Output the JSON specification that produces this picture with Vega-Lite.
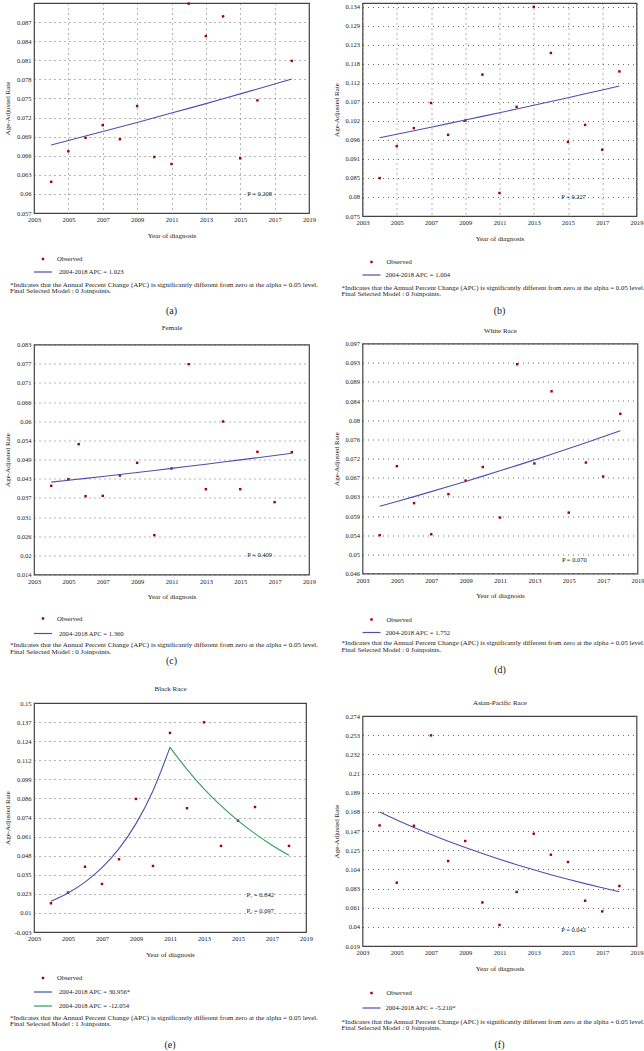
{
  "$schema": "https://vega.github.io/schema/vega-lite/v6.json",
  "background": "white",
  "padding": {"left": 2, "top": 1, "right": 0, "bottom": 0},
  "config": {
    "font": "Liberation Serif",
    "view": {"stroke": "#444", "strokeWidth": 1.2},
    "axis": {"domain": false, "ticks": false, "grid": true, "gridColor": "#444", "gridDash": [1, 4], "gridWidth": 0.8, "labelFont": "Liberation Serif", "labelFontSize": 6.5, "labelColor": "#222", "titleFont": "Liberation Serif", "titleFontSize": 7, "titleFontWeight": "normal", "titleColor": "#222", "labelOverlap": false, "tickCount": 30},
    "axisX": {"labelPadding": 3.5, "titlePadding": 8, "labelFlush": false},
    "axisY": {"labelPadding": 3, "titleX": -23.5},
    "legend": {"orient": "none", "direction": "vertical", "titleOrient": "top", "titleAnchor": "start", "titleFont": "Liberation Serif", "titleFontSize": 7, "titleFontWeight": "normal", "titleColor": "#222", "titleLimit": 600, "titleLineHeight": 6.5, "titlePadding": 0, "labelFont": "Liberation Serif", "labelFontSize": 6.6, "labelColor": "#222", "labelLimit": 300, "symbolStrokeWidth": 1.2, "symbolOpacity": 1, "symbolOffset": 0},
    "title": {"font": "Liberation Serif", "fontSize": 10, "fontWeight": "normal", "color": "#222", "orient": "bottom", "anchor": "middle"}
  },
  "datasets": {
    "a_obs": [{"year":2004,"rate":0.0619},{"year":2005,"rate":0.0667},{"year":2006,"rate":0.0688},{"year":2007,"rate":0.0708},{"year":2008,"rate":0.0686},{"year":2009,"rate":0.0738},{"year":2010,"rate":0.0658},{"year":2011,"rate":0.0647},{"year":2012,"rate":0.0899},{"year":2013,"rate":0.0848},{"year":2014,"rate":0.0879},{"year":2015,"rate":0.0656},{"year":2016,"rate":0.0747},{"year":2018,"rate":0.0809}],
    "a_fit": [{"year":2004,"rate":0.0677},{"year":2005,"rate":0.06839},{"year":2006,"rate":0.06909},{"year":2007,"rate":0.0698},{"year":2008,"rate":0.07051},{"year":2009,"rate":0.07123},{"year":2010,"rate":0.07196},{"year":2011,"rate":0.0727},{"year":2012,"rate":0.07344},{"year":2013,"rate":0.07419},{"year":2014,"rate":0.07495},{"year":2015,"rate":0.07572},{"year":2016,"rate":0.07649},{"year":2017,"rate":0.07728},{"year":2018,"rate":0.07807}],
    "b_obs": [{"year":2004,"rate":0.0857},{"year":2005,"rate":0.0947},{"year":2006,"rate":0.0998},{"year":2007,"rate":0.1069},{"year":2008,"rate":0.0979},{"year":2009,"rate":0.1019},{"year":2010,"rate":0.1149},{"year":2011,"rate":0.0815},{"year":2012,"rate":0.1058},{"year":2013,"rate":0.134},{"year":2014,"rate":0.121},{"year":2015,"rate":0.0959},{"year":2016,"rate":0.1007},{"year":2017,"rate":0.0937},{"year":2018,"rate":0.1158}],
    "b_fit": [{"year":2004,"rate":0.0971},{"year":2005,"rate":0.09807},{"year":2006,"rate":0.09906},{"year":2007,"rate":0.10005},{"year":2008,"rate":0.10106},{"year":2009,"rate":0.10207},{"year":2010,"rate":0.1031},{"year":2011,"rate":0.10413},{"year":2012,"rate":0.10518},{"year":2013,"rate":0.10624},{"year":2014,"rate":0.1073},{"year":2015,"rate":0.10838},{"year":2016,"rate":0.10947},{"year":2017,"rate":0.11057},{"year":2018,"rate":0.11168}],
    "c_obs": [{"year":2004,"rate":0.0406},{"year":2005,"rate":0.0426},{"year":2005.6,"rate":0.0531},{"year":2006,"rate":0.0375},{"year":2007,"rate":0.0376},{"year":2008,"rate":0.0437},{"year":2009,"rate":0.0475},{"year":2010,"rate":0.0258},{"year":2011,"rate":0.0458},{"year":2012,"rate":0.0771},{"year":2013,"rate":0.0396},{"year":2014,"rate":0.0599},{"year":2015,"rate":0.0396},{"year":2016,"rate":0.0508},{"year":2017,"rate":0.0357},{"year":2018,"rate":0.0507}],
    "c_fit": [{"year":2004,"rate":0.0417},{"year":2005,"rate":0.04227},{"year":2006,"rate":0.04284},{"year":2007,"rate":0.04342},{"year":2008,"rate":0.04402},{"year":2009,"rate":0.04461},{"year":2010,"rate":0.04522},{"year":2011,"rate":0.04584},{"year":2012,"rate":0.04646},{"year":2013,"rate":0.04709},{"year":2014,"rate":0.04773},{"year":2015,"rate":0.04838},{"year":2016,"rate":0.04904},{"year":2017,"rate":0.04971},{"year":2018,"rate":0.05038}],
    "d_obs": [{"year":2004,"rate":0.0545},{"year":2005,"rate":0.0698},{"year":2006,"rate":0.0616},{"year":2007,"rate":0.0547},{"year":2008,"rate":0.0636},{"year":2009,"rate":0.0666},{"year":2010,"rate":0.0696},{"year":2011,"rate":0.0584},{"year":2012,"rate":0.0924},{"year":2013,"rate":0.0704},{"year":2014,"rate":0.0864},{"year":2015,"rate":0.0595},{"year":2016,"rate":0.0706},{"year":2017,"rate":0.0675},{"year":2018,"rate":0.0814}],
    "d_fit": [{"year":2004,"rate":0.0609},{"year":2005,"rate":0.06197},{"year":2006,"rate":0.06305},{"year":2007,"rate":0.06416},{"year":2008,"rate":0.06528},{"year":2009,"rate":0.06642},{"year":2010,"rate":0.06759},{"year":2011,"rate":0.06877},{"year":2012,"rate":0.06998},{"year":2013,"rate":0.0712},{"year":2014,"rate":0.07245},{"year":2015,"rate":0.07372},{"year":2016,"rate":0.07501},{"year":2017,"rate":0.07633},{"year":2018,"rate":0.07766}],
    "e_obs": [{"year":2004,"rate":0.0162},{"year":2005,"rate":0.0233},{"year":2006,"rate":0.0406},{"year":2007,"rate":0.0291},{"year":2008,"rate":0.0456},{"year":2009,"rate":0.0859},{"year":2010,"rate":0.0411},{"year":2011,"rate":0.13},{"year":2012,"rate":0.0797},{"year":2013,"rate":0.1371},{"year":2014,"rate":0.0545},{"year":2015,"rate":0.0714},{"year":2016,"rate":0.0805},{"year":2018,"rate":0.0545}],
    "e_fit": [{"year":2004,"rate":0.0175,"segment":"2004-2018 APC = 30.956*"},{"year":2005,"rate":0.02305,"segment":"2004-2018 APC = 30.956*"},{"year":2006,"rate":0.03036,"segment":"2004-2018 APC = 30.956*"},{"year":2007,"rate":0.03999,"segment":"2004-2018 APC = 30.956*"},{"year":2008,"rate":0.05268,"segment":"2004-2018 APC = 30.956*"},{"year":2009,"rate":0.06939,"segment":"2004-2018 APC = 30.956*"},{"year":2010,"rate":0.0914,"segment":"2004-2018 APC = 30.956*"},{"year":2011,"rate":0.1204,"segment":"2004-2018 APC = 30.956*"},{"year":2011,"rate":0.1204,"segment":"2004-2018 APC = -12.054"},{"year":2012,"rate":0.1057,"segment":"2004-2018 APC = -12.054"},{"year":2013,"rate":0.0927,"segment":"2004-2018 APC = -12.054"},{"year":2014,"rate":0.0814,"segment":"2004-2018 APC = -12.054"},{"year":2015,"rate":0.0714,"segment":"2004-2018 APC = -12.054"},{"year":2016,"rate":0.0627,"segment":"2004-2018 APC = -12.054"},{"year":2017,"rate":0.055,"segment":"2004-2018 APC = -12.054"},{"year":2018,"rate":0.0483,"segment":"2004-2018 APC = -12.054"}],
    "f_obs": [{"year":2004,"rate":0.1527},{"year":2005,"rate":0.0892},{"year":2006,"rate":0.1523},{"year":2007,"rate":0.2525},{"year":2008,"rate":0.1132},{"year":2009,"rate":0.1354},{"year":2010,"rate":0.0673},{"year":2011,"rate":0.0423},{"year":2012,"rate":0.0789},{"year":2013,"rate":0.1435},{"year":2014,"rate":0.1202},{"year":2015,"rate":0.1121},{"year":2016,"rate":0.0692},{"year":2017,"rate":0.0574},{"year":2018,"rate":0.0855}],
    "f_fit": [{"year":2004,"rate":0.1675},{"year":2005,"rate":0.15877},{"year":2006,"rate":0.1505},{"year":2007,"rate":0.14266},{"year":2008,"rate":0.13523},{"year":2009,"rate":0.12818},{"year":2010,"rate":0.1215},{"year":2011,"rate":0.11517},{"year":2012,"rate":0.10917},{"year":2013,"rate":0.10348},{"year":2014,"rate":0.09809},{"year":2015,"rate":0.09298},{"year":2016,"rate":0.08814},{"year":2017,"rate":0.08355},{"year":2018,"rate":0.07919}]
  },
  "spacing": 10.5,
  "resolve": {"scale": {"color": "independent", "stroke": "independent", "opacity": "independent"}, "legend": {"color": "independent", "stroke": "independent", "opacity": "independent"}},
  "hconcat": [
    {
      "spacing": 4.5,
      "resolve": {"scale": {"color": "independent", "stroke": "independent", "opacity": "independent"}, "legend": {"color": "independent", "stroke": "independent", "opacity": "independent"}},
      "vconcat": [
        {
          "width": 275, "height": 210,
          "title": {"text": "(a)", "offset": 11.5},
          "layer": [
            {"data": {"name": "a_obs"}, "mark": {"type": "square", "size": 6, "opacity": 1},
             "encoding": {
               "x": {"field": "year", "type": "quantitative", "scale": {"domain": [2003, 2019], "nice": false, "zero": false}, "axis": {"title": "Year of diagnosis", "values": [2003,2005,2007,2009,2011,2013,2015,2017,2019], "format": "d"}},
               "y": {"field": "rate", "type": "quantitative", "scale": {"domain": [0.057, 0.09], "nice": false, "zero": false}, "axis": {"title": "Age-Adjusted Rate", "values": [0.057,0.06,0.063,0.066,0.069,0.072,0.075,0.078,0.081,0.084,0.087], "format": ".3~f"}},
               "color": {"datum": "Observed", "type": "nominal", "scale": {"domain": ["Observed"], "range": ["#a00010"]},
                 "legend": {"legendX": 5.7, "legendY": 252.7, "symbolType": "square", "symbolSize": 6, "labelOffset": 10.7, "title": null}}
             }},
            {"data": {"name": "a_fit"}, "mark": {"type": "line", "strokeWidth": 1.1},
             "encoding": {"x": {"field": "year", "type": "quantitative"}, "y": {"field": "rate", "type": "quantitative"},
               "stroke": {"datum": "2004-2018 APC = 1.023", "type": "nominal", "scale": {"domain": ["2004-2018 APC = 1.023"], "range": ["#4f4fae"]},
                 "legend": {"legendX": -1, "legendY": 259, "symbolSize": 324, "labelOffset": 6, "title": null}}}},
            {"data": {"values": [{"label": "P = 0.208"}]}, "mark": {"type": "text", "align": "left", "baseline": "middle", "fontSize": 6.5, "color": "#222"},
             "encoding": {"x": {"datum": 2015.4, "type": "quantitative"}, "y": {"datum": 0.06, "type": "quantitative"}, "text": {"field": "label"},
               "opacity": {"datum": "note", "type": "nominal", "scale": {"domain": ["note"], "range": [1]},
                 "legend": {"legendX": -24, "legendY": 277.5, "symbolSize": 0, "symbolStrokeWidth": 0, "labelFontSize": 1, "labelExpr": "''", "title": ["*Indicates that the Annual Percent Change (APC) is significantly different from zero at the alpha = 0.05 level.", "Final Selected Model : 0 Joinpoints."]}}}}
          ]
        },
        {
          "width": 275, "height": 230,
          "title": {"text": "(c)", "offset": 1, "subtitle": "\u00a0", "subtitleFontSize": 5.5, "subtitlePadding": 5.5},
          "resolve": {"axis": {"x": "independent"}},
          "layer": [
            {"data": {"name": "c_obs"}, "mark": {"type": "square", "size": 6, "opacity": 1},
             "encoding": {
               "x": {"field": "year", "type": "quantitative", "scale": {"domain": [2003, 2019], "nice": false, "zero": false}, "axis": {"orient": "top", "title": "Female", "labels": false, "grid": false, "titlePadding": 14.5}},
               "y": {"field": "rate", "type": "quantitative", "scale": {"domain": [0.014, 0.083], "nice": false, "zero": false}, "axis": {"title": "Age-Adjusted Rate", "values": [0.014,0.01975,0.0255,0.03125,0.037,0.04275,0.0485,0.05425,0.06,0.06575,0.0715,0.07725,0.083], "labelExpr": "['0.014','0.02','0.026','0.031','0.037','0.043','0.049','0.054','0.06','0.066','0.071','0.077','0.083'][round(datum.index*12)]"}},
               "color": {"datum": "Observed", "type": "nominal", "scale": {"domain": ["Observed"], "range": ["#a00010"]},
                 "legend": {"legendX": 5.7, "legendY": 270.7, "symbolType": "square", "symbolSize": 6, "labelOffset": 10.7, "title": null}}
             }},
            {"data": {"name": "c_fit"}, "mark": {"type": "line", "strokeWidth": 1.1},
             "encoding": {"x": {"field": "year", "type": "quantitative", "axis": {"title": "Year of diagnosis", "values": [2003,2005,2007,2009,2011,2013,2015,2017,2019], "format": "d"}}, "y": {"field": "rate", "type": "quantitative"},
               "stroke": {"datum": "2004-2018 APC = 1.360", "type": "nominal", "scale": {"domain": ["2004-2018 APC = 1.360"], "range": ["#4f4fae"]},
                 "legend": {"legendX": -1, "legendY": 279, "symbolSize": 324, "labelOffset": 6, "title": null}}}},
            {"data": {"values": [{"label": "P = 0.409"}]}, "mark": {"type": "text", "align": "left", "baseline": "middle", "fontSize": 6.5, "color": "#222"},
             "encoding": {"x": {"datum": 2015.4, "type": "quantitative", "axis": null}, "y": {"datum": 0.02, "type": "quantitative"}, "text": {"field": "label"},
               "opacity": {"datum": "note", "type": "nominal", "scale": {"domain": ["note"], "range": [1]},
                 "legend": {"legendX": -24, "legendY": 296.5, "symbolSize": 0, "symbolStrokeWidth": 0, "labelFontSize": 1, "labelExpr": "''", "title": ["*Indicates that the Annual Percent Change (APC) is significantly different from zero at the alpha = 0.05 level.", "Final Selected Model : 0 Joinpoints."]}}}}
          ]
        },
        {
          "width": 272, "height": 229,
          "title": {"text": "(e)", "offset": 12},
          "resolve": {"axis": {"x": "independent"}},
          "layer": [
            {"data": {"name": "e_obs"}, "mark": {"type": "square", "size": 6, "opacity": 1},
             "encoding": {
               "x": {"field": "year", "type": "quantitative", "scale": {"domain": [2003, 2019], "nice": false, "zero": false}, "axis": {"orient": "top", "title": "Black Race", "labels": false, "grid": false, "titlePadding": 12}},
               "y": {"field": "rate", "type": "quantitative", "scale": {"domain": [-0.003, 0.15], "nice": false, "zero": false}, "axis": {"title": "Age-Adjusted Rate", "values": [-0.003,0.00975,0.0225,0.03525,0.048,0.06075,0.0735,0.08625,0.099,0.11175,0.1245,0.13725,0.15], "labelExpr": "['-0.003','0.01','0.023','0.035','0.048','0.061','0.074','0.086','0.099','0.112','0.124','0.137','0.15'][round(datum.index*12)]"}},
               "color": {"datum": "Observed", "type": "nominal", "scale": {"domain": ["Observed"], "range": ["#a00010"]},
                 "legend": {"legendX": 5.7, "legendY": 271.7, "symbolType": "square", "symbolSize": 6, "labelOffset": 10.7, "title": null}}
             }},
            {"data": {"name": "e_fit"}, "mark": {"type": "line", "strokeWidth": 1.1, "interpolate": "monotone"},
             "encoding": {"x": {"field": "year", "type": "quantitative", "axis": {"title": "Year of diagnosis", "values": [2003,2005,2007,2009,2011,2013,2015,2017,2019], "format": "d"}}, "y": {"field": "rate", "type": "quantitative"},
               "stroke": {"field": "segment", "type": "nominal", "scale": {"domain": ["2004-2018 APC = 30.956*", "2004-2018 APC = -12.054"], "range": ["#4f4fae", "#2e9e5b"]},
                 "legend": {"legendX": -1, "legendY": 279, "symbolSize": 324, "labelOffset": 6, "rowPadding": -5, "title": null}}}},
            {"data": {"values": [{"label": "P₁ = 0.842"}]}, "mark": {"type": "text", "align": "left", "baseline": "middle", "fontSize": 6.5, "color": "#222"},
             "encoding": {"x": {"datum": 2015.5, "type": "quantitative", "axis": null}, "y": {"datum": 0.0217, "type": "quantitative"}, "text": {"field": "label"},
               "opacity": {"datum": "note", "type": "nominal", "scale": {"domain": ["note"], "range": [1]},
                 "legend": {"legendX": -24, "legendY": 310.5, "symbolSize": 0, "symbolStrokeWidth": 0, "labelFontSize": 1, "labelExpr": "''", "title": ["*Indicates that the Annual Percent Change (APC) is significantly different from zero at the alpha = 0.05 level.", "Final Selected Model : 1 Joinpoints."]}}}},
            {"data": {"values": [{"label": "P₂ = 0.097"}]}, "mark": {"type": "text", "align": "left", "baseline": "middle", "fontSize": 6.5, "color": "#222"},
             "encoding": {"x": {"datum": 2015.5, "type": "quantitative", "axis": null}, "y": {"datum": 0.011, "type": "quantitative"}, "text": {"field": "label"}}}
          ]
        }
      ]
    },
    {
      "spacing": 7.5,
      "resolve": {"scale": {"color": "independent", "stroke": "independent", "opacity": "independent"}, "legend": {"color": "independent", "stroke": "independent", "opacity": "independent"}},
      "vconcat": [
        {
          "width": 274, "height": 213,
          "title": {"text": "(b)", "offset": 7},
          "layer": [
            {"data": {"name": "b_obs"}, "mark": {"type": "square", "size": 6, "opacity": 1},
             "encoding": {
               "x": {"field": "year", "type": "quantitative", "scale": {"domain": [2003, 2019], "nice": false, "zero": false}, "axis": {"title": "Year of diagnosis", "values": [2003,2005,2007,2009,2011,2013,2015,2017,2019], "format": "d"}},
               "y": {"field": "rate", "type": "quantitative", "scale": {"domain": [0.075, 0.1351], "nice": false, "zero": false}, "axis": {"title": "Age-Adjusted Rate", "values": [0.075,0.0803636,0.0857273,0.0910909,0.0964545,0.1018182,0.1071818,0.1125455,0.1179091,0.1232727,0.1286364,0.134], "labelExpr": "['0.075','0.08','0.085','0.091','0.096','0.102','0.107','0.112','0.118','0.123','0.129','0.134'][round(datum.index*11)]"}},
               "color": {"datum": "Observed", "type": "nominal", "scale": {"domain": ["Observed"], "range": ["#a00010"]},
                 "legend": {"legendX": 5.7, "legendY": 255.7, "symbolType": "square", "symbolSize": 6, "labelOffset": 11.7, "title": null}}
             }},
            {"data": {"name": "b_fit"}, "mark": {"type": "line", "strokeWidth": 1.1},
             "encoding": {"x": {"field": "year", "type": "quantitative"}, "y": {"field": "rate", "type": "quantitative"},
               "stroke": {"datum": "2004-2018 APC = 1.004", "type": "nominal", "scale": {"domain": ["2004-2018 APC = 1.004"], "range": ["#4f4fae"]},
                 "legend": {"legendX": -1, "legendY": 262, "symbolSize": 324, "labelOffset": 4, "title": null}}}},
            {"data": {"values": [{"label": "P = 0.227"}]}, "mark": {"type": "text", "align": "left", "baseline": "middle", "fontSize": 6.5, "color": "#222"},
             "encoding": {"x": {"datum": 2014.6, "type": "quantitative"}, "y": {"datum": 0.0804, "type": "quantitative"}, "text": {"field": "label"},
               "opacity": {"datum": "note", "type": "nominal", "scale": {"domain": ["note"], "range": [1]},
                 "legend": {"legendX": -21, "legendY": 281.5, "symbolSize": 0, "symbolStrokeWidth": 0, "labelFontSize": 1, "labelExpr": "''", "titleFontSize": 6.9, "title": ["*Indicates that the Annual Percent Change (APC) is significantly different from zero at the alpha = 0.05 level.", "Final Selected Model : 0 Joinpoints."]}}}}
          ]
        },
        {
          "width": 275, "height": 230,
          "title": {"text": "(d)", "offset": 10.5, "subtitle": "\u00a0", "subtitleFontSize": 7, "subtitlePadding": 7},
          "resolve": {"axis": {"x": "independent"}},
          "layer": [
            {"data": {"name": "d_obs"}, "mark": {"type": "square", "size": 6, "opacity": 1},
             "encoding": {
               "x": {"field": "year", "type": "quantitative", "scale": {"domain": [2003, 2019], "nice": false, "zero": false}, "axis": {"orient": "top", "title": "White Race", "labels": false, "grid": false, "titlePadding": 10.5}},
               "y": {"field": "rate", "type": "quantitative", "scale": {"domain": [0.046, 0.097], "nice": false, "zero": false}, "axis": {"title": "Age-Adjusted Rate", "values": [0.046,0.05025,0.0545,0.05875,0.063,0.06725,0.0715,0.07575,0.08,0.08425,0.0885,0.09275,0.097], "labelExpr": "['0.046','0.05','0.054','0.059','0.063','0.067','0.072','0.076','0.08','0.084','0.089','0.093','0.097'][round(datum.index*12)]"}},
               "color": {"datum": "Observed", "type": "nominal", "scale": {"domain": ["Observed"], "range": ["#a00010"]},
                 "legend": {"legendX": 5.7, "legendY": 272.7, "symbolType": "square", "symbolSize": 6, "labelOffset": 11.7, "title": null}}
             }},
            {"data": {"name": "d_fit"}, "mark": {"type": "line", "strokeWidth": 1.1},
             "encoding": {"x": {"field": "year", "type": "quantitative", "axis": {"title": "Year of diagnosis", "values": [2003,2005,2007,2009,2011,2013,2015,2017,2019], "format": "d"}}, "y": {"field": "rate", "type": "quantitative"},
               "stroke": {"datum": "2004-2018 APC = 1.752", "type": "nominal", "scale": {"domain": ["2004-2018 APC = 1.752"], "range": ["#4f4fae"]},
                 "legend": {"legendX": -1, "legendY": 279, "symbolSize": 324, "labelOffset": 4, "title": null}}}},
            {"data": {"values": [{"label": "P = 0.070"}]}, "mark": {"type": "text", "align": "left", "baseline": "middle", "fontSize": 6.5, "color": "#222"},
             "encoding": {"x": {"datum": 2014.6, "type": "quantitative", "axis": null}, "y": {"datum": 0.0489, "type": "quantitative"}, "text": {"field": "label"},
               "opacity": {"datum": "note", "type": "nominal", "scale": {"domain": ["note"], "range": [1]},
                 "legend": {"legendX": -21, "legendY": 296.5, "symbolSize": 0, "symbolStrokeWidth": 0, "labelFontSize": 1, "labelExpr": "''", "titleFontSize": 6.9, "title": ["*Indicates that the Annual Percent Change (APC) is significantly different from zero at the alpha = 0.05 level.", "Final Selected Model : 0 Joinpoints."]}}}}
          ]
        },
        {
          "width": 274, "height": 230,
          "title": {"text": "(f)", "offset": 7},
          "resolve": {"axis": {"x": "independent"}},
          "layer": [
            {"data": {"name": "f_obs"}, "mark": {"type": "square", "size": 6, "opacity": 1},
             "encoding": {
               "x": {"field": "year", "type": "quantitative", "scale": {"domain": [2003, 2019], "nice": false, "zero": false}, "axis": {"orient": "top", "title": "Asian-Pacific Race", "labels": false, "grid": false, "titlePadding": 10.5}},
               "y": {"field": "rate", "type": "quantitative", "scale": {"domain": [0.019, 0.274], "nice": false, "zero": false}, "axis": {"title": "Age-Adjusted Rate", "values": [0.019,0.04025,0.0615,0.08275,0.104,0.12525,0.1465,0.16775,0.189,0.21025,0.2315,0.25275,0.274], "labelExpr": "['0.019','0.04','0.061','0.083','0.104','0.125','0.147','0.168','0.189','0.21','0.232','0.253','0.274'][round(datum.index*12)]"}},
               "color": {"datum": "Observed", "type": "nominal", "scale": {"domain": ["Observed"], "range": ["#a00010"]},
                 "legend": {"legendX": 5.7, "legendY": 273.7, "symbolType": "square", "symbolSize": 6, "labelOffset": 11.7, "title": null}}
             }},
            {"data": {"name": "f_fit"}, "mark": {"type": "line", "strokeWidth": 1.1},
             "encoding": {"x": {"field": "year", "type": "quantitative", "axis": {"title": "Year of diagnosis", "values": [2003,2005,2007,2009,2011,2013,2015,2017,2019], "format": "d"}}, "y": {"field": "rate", "type": "quantitative"},
               "stroke": {"datum": "2004-2018 APC = -5.210*", "type": "nominal", "scale": {"domain": ["2004-2018 APC = -5.210*"], "range": ["#4f4fae"]},
                 "legend": {"legendX": -1, "legendY": 282, "symbolSize": 324, "labelOffset": 4, "title": null}}}},
            {"data": {"values": [{"label": "P = 0.042"}]}, "mark": {"type": "text", "align": "left", "baseline": "middle", "fontSize": 6.5, "color": "#222"},
             "encoding": {"x": {"datum": 2014.6, "type": "quantitative", "axis": null}, "y": {"datum": 0.0371, "type": "quantitative"}, "text": {"field": "label"},
               "opacity": {"datum": "note", "type": "nominal", "scale": {"domain": ["note"], "range": [1]},
                 "legend": {"legendX": -21, "legendY": 302.5, "symbolSize": 0, "symbolStrokeWidth": 0, "labelFontSize": 1, "labelExpr": "''", "titleFontSize": 6.9, "title": ["*Indicates that the Annual Percent Change (APC) is significantly different from zero at the alpha = 0.05 level.", "Final Selected Model : 0 Joinpoints."]}}}}
          ]
        }
      ]
    }
  ]
}
